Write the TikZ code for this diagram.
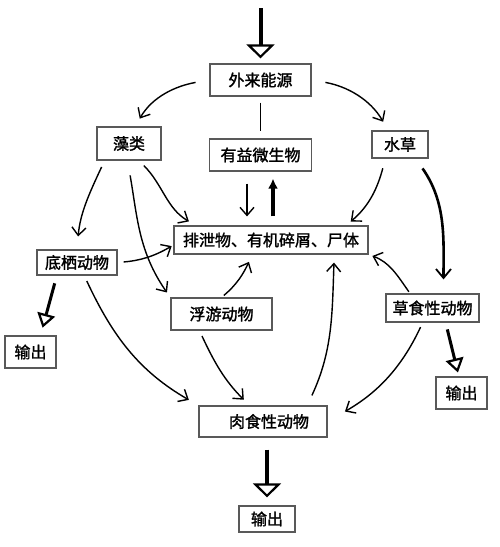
\documentclass[tikz,border=0pt]{standalone}
\usepackage{fontspec}
\newfontfamily\cjk{Noto Sans CJK SC}[FakeBold=1.6]
\usetikzlibrary{arrows.meta}

\begin{document}
\begin{tikzpicture}[x=1pt,y=1pt,
        box/.style={draw=black!65,line width=1.2pt,inner sep=0pt,font=\cjk\fontsize{16pt}{18pt}\selectfont},
        flow/.style={line width=1.4pt,-{Straight Barb[length=8pt,width=14pt,line width=1.4pt]}},
        strongflow/.style={line width=2.6pt,-{Straight Barb[length=9pt,width=15pt,line width=1.8pt]}},
        outflow/.style={line width=3pt,-{Triangle[open,length=14pt,width=18pt,line width=2.2pt]}},
        bigoutflow/.style={line width=4pt,-{Triangle[open,length=14pt,width=28pt,line width=2.2pt]}}]
        \useasboundingbox (0,0) rectangle (500,-547);
        \foreach \n/\x/\y/\w/\h/\t in {src/260.5/80/101/32/外来能源,
                algae/129/143.5/64/33/藻类,
                micro/260.5/155/102/32/有益微生物,
                weed/400/144.5/56/27/水草,
                detritus/271/240/194/28/排泄物、有机碎屑、尸体,
                benthic/77/262.5/80/25/底栖动物,
                zoo/221.5/314/101/32/浮游动物,
                herb/432.5/308/93/28/草食性动物,
                out1/30.5/352/51/32/输出,
                out2/461.5/393/51/32/输出,
                carn/263/421.5/128/31/\hspace{12pt}肉食性动物,
                out3/267/519/56/26/输出} {
            \node[box,minimum width=\w pt,minimum height=\h pt] (\n) at (\x,-\y) {\t};
        }
        % energy in, and the link to the microbes
        \coordinate (inflow) at (260.5,-8);
        \draw[bigoutflow,shorten >=5pt] (inflow) -- (src.north);
        \draw[line width=1.8pt,shorten <=6pt,shorten >=7pt] (src.south) -- (micro.north);
        \draw[flow,shorten <=14pt,shorten >=9pt] (src.west) to[out=190,in=60] (algae.70);
        \draw[flow,shorten <=14pt,shorten >=10pt] (src.east) to[out=-10,in=120] (weed.130);
        \draw[flow,shorten <=12pt,shorten >=9pt] ([xshift=-13.5pt]micro.south) -- ([xshift=-13.5pt]micro.south |- detritus.north);
        \draw[line width=4pt,-{Latex[length=10pt,width=10pt]},shorten <=9pt,shorten >=7pt] ([xshift=2pt]detritus.north) -- ([xshift=2pt]detritus.north |- micro.south);
        % producers
        \draw[flow,shorten <=7pt,shorten >=13pt] (algae.215) to[out=245,in=85] (benthic.north);
        \draw[flow,shorten <=15pt,shorten >=6pt] (algae.265) to[out=-80,in=125] (zoo.north west);
        \draw[flow,shorten <=7pt,shorten >=8pt] (algae.300) to[out=-45,in=150] (detritus.169);
        \draw[flow,shorten <=10pt,shorten >=6pt] (weed.224) to[out=-105,in=40] (detritus.11);
        \draw[strongflow,shorten <=12pt,shorten >=14pt] (weed.318) to[out=-55,in=90] (herb.53);
        % consumers
        \draw[flow,shorten <=6pt,shorten >=2pt] (benthic.east) to[out=5,in=210] (detritus.183);
        \draw[outflow,shorten <=8pt,shorten >=8pt] (benthic.213) -- (out1.59);
        \draw[flow,shorten <=6pt,shorten >=11pt] (benthic.299) to[out=-65,in=150] (carn.north west);
        \draw[flow,shorten <=3pt,shorten >=8pt] (zoo.north) to[out=40,in=-115] (detritus.218);
        \draw[flow,shorten <=6pt,shorten >=8pt] (zoo.217) to[out=-65,in=135] (carn.130);
        \draw[flow,shorten <=11pt,shorten >=8pt] (carn.20) to[out=65,in=-92] (detritus.-13);
        \draw[flow,shorten <=2pt,shorten >=4pt] (herb.147) to[out=125,in=-20] (detritus.south east);
        \draw[flow,shorten <=5pt,shorten >=20pt] (herb.236) to[out=-115,in=30] (carn.east);
        \draw[outflow,shorten <=7pt,shorten >=4pt] (herb.312) -- (out2.99);
        \draw[bigoutflow,shorten <=12pt,shorten >=8pt] (carn.south -| out3.north) -- (out3.north);
\end{tikzpicture}
\end{document}
